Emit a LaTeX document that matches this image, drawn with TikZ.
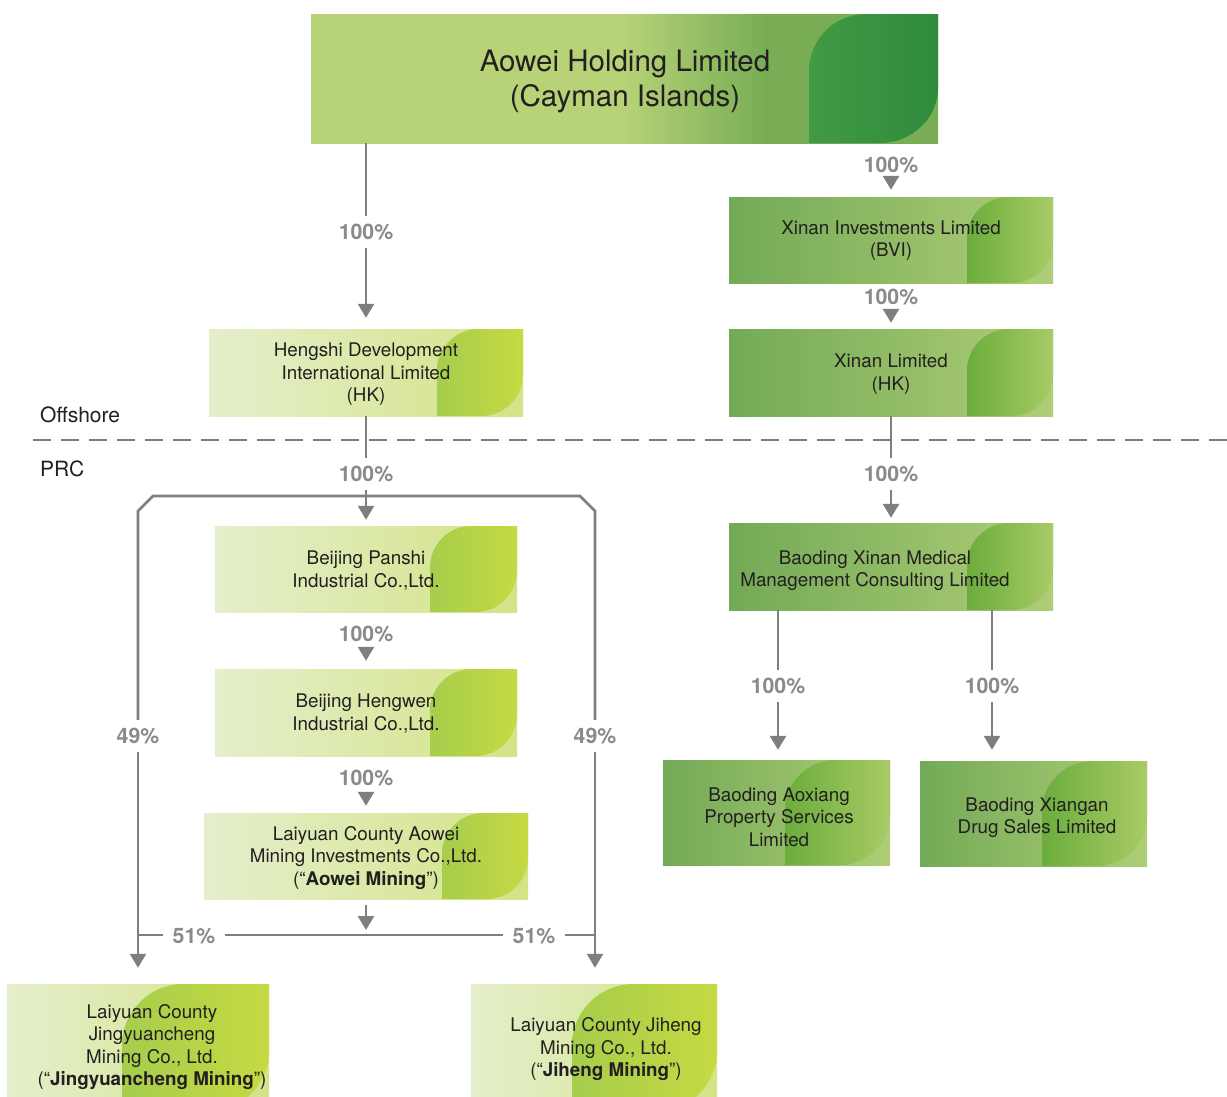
\documentclass[tikz,border=0pt]{standalone}
\usepackage{fontspec}
\setmainfont{TeX Gyre Heros}
\usetikzlibrary{arrows.meta}
\definecolor{lightL}{HTML}{E4EFCC}
\definecolor{lightR}{HTML}{D4E387}
\definecolor{lightLeafL}{HTML}{A6CD4C}
\definecolor{lightLeafR}{HTML}{C6DA42}
\definecolor{darkL}{HTML}{73AA56}
\definecolor{darkR}{HTML}{AFCD77}
\definecolor{darkLeafL}{HTML}{6BAD3D}
\definecolor{darkLeafR}{HTML}{A8CB66}
\definecolor{topA}{HTML}{B7D277}
\definecolor{topB}{HTML}{78AD56}
\definecolor{topLeafL}{HTML}{419A45}
\definecolor{topLeafR}{HTML}{2E8B3D}
\definecolor{linegrey}{HTML}{7F7F83}
\definecolor{pctgrey}{HTML}{8A8A8D}
\definecolor{txtblack}{HTML}{231F20}
\pgfdeclarehorizontalshading{topshade}{100bp}{color(0bp)=(topA); color(50bp)=(topA); color(61.2bp)=(topB); color(100bp)=(topB)}
\tikzset{
  ln/.style={draw=linegrey, line width=2.6pt},
  ar/.style={ln, -{Triangle[width=16pt,length=14pt]}},
  pct/.style={font=\fontsize{21.3}{22}\selectfont\bfseries, text=pctgrey, inner xsep=9pt, inner ysep=8pt},
  btxt/.style={font=\fontsize{18.8}{22.5}\selectfont, text=txtblack, align=center, inner sep=0pt},
  ttxt/.style={font=\fontsize{29.5}{35}\selectfont, text=txtblack, align=center, inner sep=0pt},
  side/.style={font=\fontsize{21}{22}\selectfont, text=txtblack, inner sep=0pt, anchor=west},
  boxshape/.style={inner sep=0pt}
}
% #1 name, #2 x1, #3 y1, #4 x2, #5 y2, #6 leaf x, #7 kind
\newcommand\orgbox[7]{%
  \pgfmathsetmacro\rr{min(0.48*(#5-#3),62)}%
  \pgfmathsetmacro\kk{0.5523*\rr}%
  \shade[left color=#7L, right color=#7R] (#2,#3) rectangle (#4,#5);
  \shade[left color=#7LeafL, right color=#7LeafR] (#6,#5) -- (#6,#3+\rr)
     .. controls (#6,#3+\rr-\kk) and (#6+\rr-\kk,#3) .. (#6+\rr,#3)
     -- (#4,#3) -- (#4,#5-\rr)
     .. controls (#4,#5-\rr+\kk) and (#4-\rr+\kk,#5) .. (#4-\rr,#5) -- cycle;
  \node[boxshape, minimum width={(#4-#2)*1pt}, minimum height={(#5-#3)*1pt}] (#1) at ({(#2+#4)/2},{(#3+#5)/2}) {};
}
\begin{document}
\begin{tikzpicture}[x=1pt,y=-1pt]
\useasboundingbox (0,0) rectangle (1227,1096);
\fill[white] (0,0) rectangle (1227,1096);

% top box
\shade[shading=topshade] (311,14) rectangle (938,143);
\shade[left color=topLeafL, right color=topLeafR] (809,143) -- (809,72)
   .. controls (809,39) and (834,14) .. (867,14)
   -- (938,14) -- (938,88)
   .. controls (938,118) and (912,143) .. (880,143) -- cycle;
\node[boxshape, minimum width=627pt, minimum height=129pt] (aowei) at (624.5,78.5) {};
\node[ttxt] (aowei-t) at (625,81) {Aowei Holding Limited\\(Cayman Islands)};

\orgbox{hengshi}{209}{329}{523}{416}{437}{light}
\orgbox{xinv}{729}{197}{1053}{283}{967}{dark}
\orgbox{xltd}{729}{329}{1053}{416}{967}{dark}
\orgbox{panshi}{215}{526}{517}{612}{430}{light}
\orgbox{hengwen}{215}{669}{517}{756}{430}{light}
\orgbox{aomin}{204}{813}{528}{899}{442}{light}
\orgbox{medical}{729}{523}{1053}{610}{967}{dark}
\orgbox{aoxiang}{663}{760}{890}{865}{785}{dark}
\orgbox{xiangan}{920}{761}{1147}{866}{1042}{dark}
\orgbox{jingy}{7}{984}{269}{1112}{122}{light}
\orgbox{jiheng}{471}{984}{717}{1112}{572}{light}

\node[btxt] (hengshi-t) at (366,374.5) {Hengshi Development\\International Limited\\(HK)};
\node[btxt] (xinv-t) at (891,240.5) {Xinan Investments Limited\\(BVI)};
\node[btxt] (xltd-t) at (891,374) {Xinan Limited\\(HK)};
\node[btxt] (panshi-t) at (366,570.5) {Beijing Panshi\\Industrial Co.,Ltd.};
\node[btxt] (hengwen-t) at (366,713.5) {Beijing Hengwen\\Industrial Co.,Ltd.};
\node[btxt] (aomin-t) at (366,858) {Laiyuan County Aowei\\Mining Investments Co.,Ltd.\\(“\textbf{Aowei Mining}”)};
\node[btxt] (medical-t) at (875,570.5) {Baoding Xinan Medical\\Management Consulting Limited};
\node[btxt] (aoxiang-t) at (779,817) {Baoding Aoxiang\\Property Services\\Limited};
\node[btxt] (xiangan-t) at (1037,817.5) {Baoding Xiangan\\Drug Sales Limited};
\node[btxt] (jingy-t) at (152,1047) {Laiyuan County\\Jingyuancheng\\Mining Co., Ltd.\\(“\textbf{Jingyuancheng Mining}”)};
\node[btxt] (jiheng-t) at (606,1049.5) {Laiyuan County Jiheng\\Mining Co., Ltd.\\(“\textbf{Jiheng Mining}”)};

% region labels and divider
\node[side] (offshore) at (40,414.5) {Offshore};
\node[side] (prc) at (40,468.5) {PRC};
\coordinate (dl) at (33,440);
\coordinate (dr) at (1227,440);
\draw[ln, dash pattern=on 18pt off 10pt] (dl) -- (dr);

% percentage labels
\node[pct] (l1) at (366,232) {100\%};
\node[pct] (l2) at (891,165) {100\%};
\node[pct] (l3) at (891,297) {100\%};
\node[pct] (l4) at (366,474) {100\%};
\node[pct] (l5) at (891,474) {100\%};
\node[pct] (l6) at (366,634) {100\%};
\node[pct] (l7) at (366,778) {100\%};
\node[pct] (l8) at (778,686) {100\%};
\node[pct] (l9) at (992,686) {100\%};
\node[pct] (l49a) at (138,736) {49\%};
\node[pct] (l49b) at (595,736) {49\%};
\node[pct] (l51a) at (194,936) {51\%};
\node[pct] (l51b) at (534,936) {51\%};

% connectors
\draw[ln] (aowei.south -| l1) -- (l1.north);
\draw[ar, shorten >=11pt] (l1.south) -- (hengshi.north -| l1);
\draw[ar, shorten >=7pt] (l2.south) -- (xinv.north -| l2);
\draw[ar, shorten >=6pt] (l3.south) -- (xltd.north -| l3);
\draw[ln] (hengshi.south -| l4) -- (l4.north);
\draw[ar, shorten >=6pt] (l4.south) -- (panshi.north -| l4);
\draw[ln] (xltd.south -| l5) -- (l5.north);
\draw[ar, shorten >=5pt] (l5.south) -- (medical.north -| l5);
\draw[ar, shorten >=8pt] (l6.south) -- (hengwen.north -| l6);
\draw[ar, shorten >=7pt] (l7.south) -- (aomin.north -| l7);
\draw[ln] (medical.south -| l8) -- (l8.north);
\draw[ar, shorten >=10pt] (l8.south) -- (aoxiang.north -| l8);
\draw[ln] (medical.south -| l9) -- (l9.north);
\draw[ar, shorten >=11pt] (l9.south) -- (xiangan.north -| l9);

% 49% frame
\coordinate (fr1) at (138,511);
\coordinate (fr2) at (153,496);
\coordinate (fr3) at (580,496);
\coordinate (fr4) at (595,511);
\draw[ln] (l49a.north) -- (fr1) -- (fr2) -- (fr3) -- (fr4) -- (l49b.north);
\draw[ar, shorten >=16pt] (l49a.south) -- (jingy.north -| l49a);
\draw[ar, shorten >=16pt] (l49b.south) -- (jiheng.north -| l49b);

% 51% bar
\coordinate (b51l) at (138,935);
\coordinate (b51m) at (366,935);
\coordinate (b51r) at (595,935);
\draw[ar, shorten <=6pt, shorten >=5pt] (aomin.south) -- (b51m);
\draw[ln] (b51l) -- (l51a.west |- b51l);
\draw[ln] (l51a.east |- b51l) -- (l51b.west |- b51l);
\draw[ln] (l51b.east |- b51r) -- (b51r);
\end{tikzpicture}
\end{document}
